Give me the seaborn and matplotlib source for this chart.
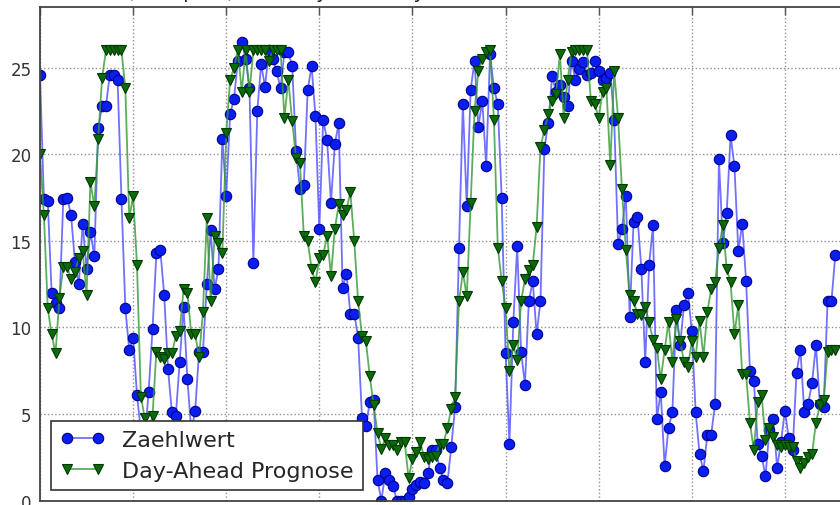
import numpy as np
import pandas as pd
import matplotlib
matplotlib.use("Agg")
import matplotlib.pyplot as plt
import seaborn as sns

# Stundenwerte, je Tag 24 Punkte
zaehlwert = [
    # Tag 1
    24.6, 17.4, 17.3, 12.0, 11.4, 11.1, 17.4, 17.5, 16.5, 13.8, 12.5, 16.0,
    13.4, 15.5, 14.1, 21.5, 22.8, 22.8, 24.6, 24.6, 24.3, 17.4, 11.1, 8.7,
    # Tag 2
    9.4, 6.1, 4.0, 3.5, 6.3, 9.9, 14.3, 14.5, 11.9, 7.6, 5.1, 4.9,
    8.0, 11.2, 7.0, 4.0, 5.2, 8.6, 8.6, 12.5, 15.6, 12.2, 13.4, 20.9,
    # Tag 3
    17.6, 22.3, 23.2, 25.4, 26.5, 25.5, 23.8, 13.7, 22.5, 25.2, 23.9, 26.0,
    25.5, 24.8, 23.8, 25.9, 25.9, 25.1, 20.2, 18.0, 18.2, 23.7, 25.1, 22.2,
    # Tag 4
    15.7, 22.0, 20.8, 17.2, 20.6, 21.8, 12.3, 13.1, 10.8, 10.8, 9.4, 4.8,
    4.3, 5.7, 5.8, 1.2, 0.0, 1.6, 1.2, 0.85, 0.0, 0.0, 0.0, 0.2,
    # Tag 5
    0.7, 0.9, 1.1, 1.0, 1.6, 2.9, 2.9, 1.9, 1.2, 1.0, 3.1, 5.4,
    14.6, 22.9, 17.0, 23.7, 25.4, 21.6, 23.1, 19.3, 25.8, 23.8, 22.9, 17.5,
    # Tag 6
    8.5, 3.3, 10.3, 14.7, 8.6, 6.7, 11.5, 12.7, 9.6, 11.5, 20.3, 21.8,
    24.5, 23.6, 24.0, 23.3, 22.8, 25.4, 24.3, 24.9, 25.3, 24.6, 24.7, 25.4,
    # Tag 7
    24.8, 24.3, 24.4, 24.7, 22.0, 14.8, 15.7, 17.6, 10.6, 16.1, 16.4, 13.4,
    8.0, 13.6, 15.9, 4.7, 6.3, 2.0, 4.2, 5.1, 11.0, 9.0, 11.3, 12.0,
    # Tag 8
    9.8, 5.1, 2.7, 1.7, 3.8, 3.8, 5.6, 19.7, 14.9, 16.6, 21.1, 19.3,
    14.4, 16.0, 12.7, 7.5, 6.9, 3.3, 2.6, 1.4, 4.1, 4.7, 1.9, 3.4,
    # Tag 9 (angeschnitten)
    5.2, 3.6, 2.9, 7.4, 8.7, 5.1, 5.6, 6.8, 9.0, 5.6, 5.4, 11.5,
    11.5, 14.2,
]

prognose = [
    # Tag 1
    20.0, 16.5, 11.1, 9.6, 8.5, 11.7, 13.5, 13.5, 12.8, 13.2, 14.0, 14.4,
    11.9, 18.4, 17.0, 20.9, 24.4, 26.0, 26.0, 26.0, 26.0, 26.0, 23.8, 16.3,
    # Tag 2
    17.6, 13.6, 6.0, 4.8, 4.0, 4.9, 8.6, 8.3, 8.2, 8.5, 8.5, 9.5,
    9.8, 12.2, 12.0, 9.6, 9.6, 8.3, 10.9, 16.3, 11.5, 15.3, 14.9, 14.3,
    # Tag 3
    21.2, 24.3, 25.0, 26.0, 23.6, 26.0, 23.6, 26.0, 26.0, 26.0, 26.0, 25.4,
    26.0, 26.0, 26.0, 22.1, 24.3, 21.9, 19.8, 19.5, 15.3, 15.0, 13.4, 12.6,
    # Tag 4
    14.0, 14.2, 15.3, 13.0, 15.7, 17.1, 16.5, 16.8, 17.8, 15.0, 11.5, 9.5,
    9.2, 7.2, 5.5, 3.9, 3.0, 3.6, 3.2, 3.2, 2.9, 3.4, 3.4, 1.3,
    # Tag 5
    2.4, 2.8, 3.4, 2.5, 2.4, 2.5, 2.6, 3.3, 3.3, 4.2, 5.3, 6.0,
    11.5, 13.2, 11.8, 17.2, 22.5, 24.8, 25.5, 25.9, 26.0, 22.0, 14.6, 12.7,
    # Tag 6
    11.1, 7.5, 9.0, 8.1, 11.5, 12.8, 13.3, 13.6, 15.8, 20.4, 21.4, 22.3,
    23.1, 23.5, 25.8, 22.1, 24.3, 25.9, 26.0, 26.0, 26.0, 26.0, 23.1, 22.9,
    # Tag 7
    22.1, 23.6, 23.8, 19.4, 24.8, 22.1, 18.0, 14.5, 11.9, 11.5, 10.8, 10.7,
    11.2, 10.3, 9.3, 8.8, 7.0, 8.7, 10.3, 8.0, 10.5, 9.2, 8.0, 7.7,
    # Tag 8
    9.2, 8.3, 10.4, 8.3, 10.9, 12.2, 12.6, 14.6, 15.9, 13.4, 12.6, 9.6,
    11.3, 7.3, 7.3, 4.5, 2.9, 5.7, 6.1, 3.5, 4.2, 3.7, 3.2, 3.1,
    # Tag 9 (angeschnitten)
    3.2, 3.1, 3.1, 2.3, 1.9, 2.2, 2.5, 2.7, 4.5, 5.5, 5.8, 8.6,
    8.7, 8.7,
]

x_ticks = list(range(0, 217, 24))
y_ticks = [0, 5, 10, 15, 20, 25]

df = pd.DataFrame({
    "Stunde": np.arange(len(zaehlwert)),
    "Zaehlwert": zaehlwert,
    "Day-Ahead Prognose": prognose,
})

sns.set_style("white")
plt.rcParams["font.family"] = ["DejaVu Sans"]

fig = plt.figure(figsize=(8.4, 5.06), dpi=100)
# Achse ist oben/rechts/unten angeschnitten wie im Original
ax = fig.add_axes([40 / 840, 4.3 / 506, 838 / 840, 493.7 / 506])

sns.lineplot(data=df, x="Stunde", y="Zaehlwert", ax=ax,
             color=(0.3, 0.3, 1.0, 0.8), linewidth=1.3,
             marker="o", markersize=7.5, markerfacecolor="#0a1ef0",
             markeredgecolor="#000090", markeredgewidth=0.8,
             label="Zaehlwert")
sns.lineplot(data=df, x="Stunde", y="Day-Ahead Prognose", ax=ax,
             color=(0.2, 0.6, 0.2, 0.8), linewidth=1.3,
             marker="v", markersize=7.5, markerfacecolor="#0b6b0b",
             markeredgecolor="#003800", markeredgewidth=0.8,
             label="Day-Ahead Prognose")

ax.set_xlim(0, 216)
ax.set_ylim(0, 28.5)
ax.set_xticks(x_ticks)
ax.set_yticks(y_ticks)
ax.set_xlabel("")
ax.set_ylabel("")

ax.grid(True, linestyle=":", color="#909090", linewidth=1.0)
ax.set_axisbelow(True)
for s in ax.spines.values():
    s.set_color("#444444")
    s.set_linewidth(1.3)
ax.tick_params(direction="in", length=6, width=1, color="#555555",
               top=True, right=True, labelbottom=False,
               labelsize=12, labelcolor="#333333", pad=6)

leg = ax.legend(loc="lower left", fontsize=16, numpoints=2,
                fancybox=False, framealpha=1, edgecolor="#333333",
                handlelength=2.0, handletextpad=0.8, labelspacing=0.5,
                borderpad=0.4)
leg.get_frame().set_linewidth(1.2)

# Titel liegt fast ganz ausserhalb des Bildes
fig.text(80 / 840, 1.0 + 2 / 506,
         "Last (Windpark) vom Day 1 bis Day 9 - Zaehlwert und Modell",
         ha="left", va="baseline", fontsize=14, color="#222222")

fig.savefig("out.png", dpi=100)
